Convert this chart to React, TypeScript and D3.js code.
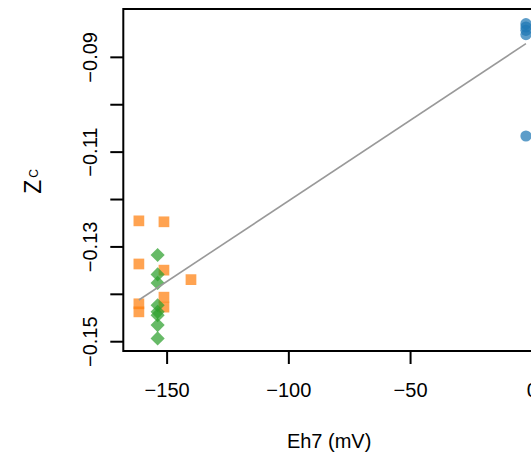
import React from "react";
import * as d3 from "d3";

const orangeX = [-161.6, -151.3, -161.6, -151.3, -140.2, -161.6, -161.6, -151.3, -151.3];
const orangeY = [-0.1245, -0.1247, -0.1336, -0.1349, -0.1369, -0.1420, -0.1437, -0.1406, -0.1427];
const greenX = [-153.9, -153.9, -153.9, -153.9, -153.9, -153.9, -153.9, -153.9];
const greenY = [-0.1317, -0.1358, -0.1376, -0.1423, -0.1437, -0.1444, -0.1465, -0.1493];
const blueX = [-2.6, -2.6, -2.6, -2.6, -2.6];
const blueY = [-0.0829, -0.0836, -0.0843, -0.0852, -0.1066];
const lineX = [-161.6, -2.6];
const lineY = [-0.1412, -0.0871];
const xTicks = [-150, -100, -50, 0];
const yTicks = [-0.15, -0.14, -0.13, -0.12, -0.11, -0.10, -0.09];
const yLabeled = [-0.15, -0.13, -0.11, -0.09];

const W = 531, H = 454;
const left = 123.3, top = 9, bottom = 351, right = 543;

export default function App() {
  const x = d3.scaleLinear().domain([-168, 4.4]).range([left, right]);
  const y = d3.scaleLinear().domain([-0.15196, -0.0798]).range([bottom, top]);
  const font = "Liberation Sans, Arial, sans-serif";
  const sq = d3.symbol().type(d3.symbolSquare).size(115)();
  const dsq = d3.symbol().type(d3.symbolSquare).size(100)();
  const line = d3.line<number>().x((d) => x(lineX[d])).y((d) => y(lineY[d]));
  const fmt = (v: number) => d3.format(".2f")(v).replace("-", "\u2212");
  return (
    <svg width={W} height={H} style={{ position: "absolute", left: 0, top: 0, background: "#fff" }} fontFamily={font}>
      <rect x={0} y={0} width={W} height={H} fill="#fff" />
      {orangeX.map((v, i) => (
        <path key={"o" + i} d={sq} transform={`translate(${x(v)},${y(orangeY[i])})`} fill="#FF7F0E" fillOpacity={0.72} />
      ))}
      {greenX.map((v, i) => (
        <path key={"g" + i} d={dsq} transform={`translate(${x(v)},${y(greenY[i])}) rotate(45)`} fill="#2CA02C" fillOpacity={0.72} />
      ))}
      {blueX.map((v, i) => (
        <circle key={"b" + i} cx={x(v)} cy={y(blueY[i])} r={5.6} fill="#1F77B4" fillOpacity={0.72} />
      ))}
      <path d={line([0, 1]) || ""} stroke="#999" strokeWidth={1.6} fill="none" />
      <rect x={left} y={top} width={right - left} height={bottom - top} fill="none" stroke="#000" strokeWidth={2} />
      {xTicks.map((t) => (
        <g key={"xt" + t}>
          <line x1={x(t)} x2={x(t)} y1={bottom} y2={bottom + 13} stroke="#000" strokeWidth={2} />
          <text x={x(t)} y={397} textAnchor="middle" fontSize={20}>{t === 0 ? "0" : "\u2212" + Math.abs(t)}</text>
        </g>
      ))}
      {yTicks.map((t) => (
        <line key={"yt" + t} x1={left - 13} x2={left} y1={y(t)} y2={y(t)} stroke="#000" strokeWidth={2} />
      ))}
      {yLabeled.map((t) => (
        <text key={"yl" + t} transform={`translate(97,${y(t)}) rotate(-90)`} textAnchor="middle" fontSize={20}>{fmt(t)}</text>
      ))}
      <text x={(left + 531) / 2 + 2} y={448} textAnchor="middle" fontSize={20}>Eh7 (mV)</text>
      <text transform={`translate(41,181.5) rotate(-90)`} textAnchor="middle" fontSize={23}>
        Z<tspan fontSize={12} dx={2} dy={-3}>C</tspan>
      </text>
    </svg>
  );
}
